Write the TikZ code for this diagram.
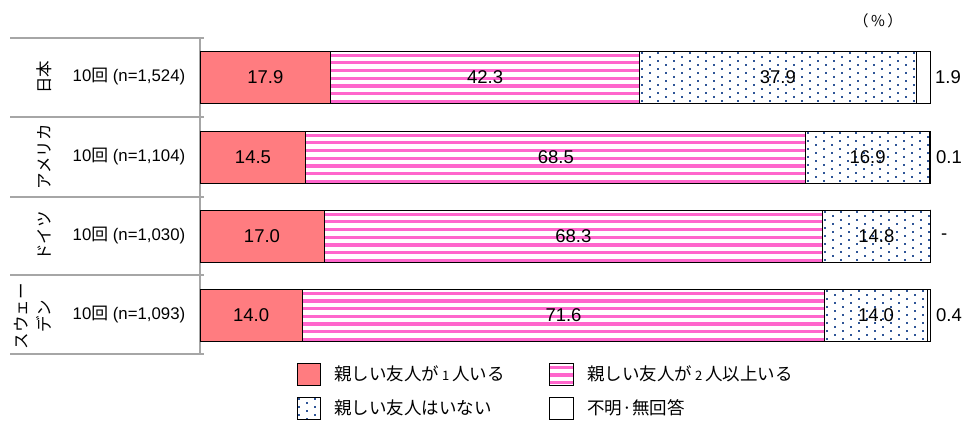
\documentclass[tikz,border=0pt]{standalone}
\usepackage{fontspec}
\setmainfont{Liberation Sans}
\newfontfamily\cjk{Noto Sans CJK JP}
\definecolor{redfill}{HTML}{FF7C80}
\definecolor{pinkline}{HTML}{FF66CC}
\definecolor{dotblue}{HTML}{2F5597}
\definecolor{gridgray}{HTML}{A6A6A6}
\tikzset{
  barline/.style={draw=black,line width=0.9pt},
  gridline/.style={draw=gridgray,line width=1.2pt},
  valtxt/.style={inner sep=0pt,font=\fontsize{18.5}{20}\selectfont},
  sidetxt/.style={inner sep=0pt,anchor=west,font=\fontsize{18.5}{20}\selectfont},
  ntxt/.style={inner sep=0pt,font=\fontsize{16.8}{18}\selectfont},
  ctry/.style={inner sep=0pt,rotate=90,align=center,font=\cjk\fontsize{16.5}{23}\selectfont},
  legtxt/.style={inner sep=0pt,anchor=west,font=\cjk\fontsize{17.5}{19}\selectfont},
}
\newcommand\mystripes[4]{%
  \fill[white] (#1,#2) rectangle (#3,#4);
  \begin{scope}
    \clip (#1,#2) rectangle (#3,#4);
    \foreach \k in {0,...,7} {\fill[pinkline] (#1,{#2+2.6+7.7*\k}) rectangle (#3,{#2+5.8+7.7*\k});}
  \end{scope}
  \draw[barline] (#1,#2) rectangle (#3,#4);
}
\newcommand\mydots[4]{%
  \fill[white] (#1,#2) rectangle (#3,#4);
  \begin{scope}
    \clip (#1,#2) rectangle (#3,#4);
    \pgfmathtruncatemacro\ncols{(#3-#1)/16+1}
    \foreach \j in {0,...,13} {
      \foreach \i in {0,...,\ncols} {
        \fill[dotblue] ({#1+1+16*\i+8*mod(\j,2)},{#2+1+4*\j}) rectangle ++(2,2);
      }
    }
  \end{scope}
  \draw[barline] (#1,#2) rectangle (#3,#4);
}
% y0, end red, end stripes, end dots
\newcommand\mybarrow[4]{%
  \fill[redfill] (200,#1) rectangle (#2,{#1+52});
  \draw[barline] (200,#1) rectangle (#2,{#1+52});
  \mystripes{#2}{#1}{#3}{#1+52}
  \mydots{#3}{#1}{#4}{#1+52}
  \fill[white] (#4,#1) rectangle (930,{#1+52});
  \draw[barline] (#4,#1) rectangle (930,{#1+52});
}
\begin{document}
\begin{tikzpicture}[x=1pt,y=-1pt]
\useasboundingbox[fill=white] (0,0) rectangle (964,422);
% grid
\draw[gridline] (10,38) -- (204,38);
\draw[gridline] (10,117) -- (204,117);
\draw[gridline] (10,197) -- (204,197);
\draw[gridline] (10,275) -- (204,275);
\draw[gridline] (10,354) -- (204,354);
\draw[gridline] (200,38) -- (200,354);
% bars
\mybarrow{51}{330.7}{639.5}{916.1}
\mybarrow{131}{305.9}{805.9}{929.3}
\mybarrow{210}{324.1}{822.7}{930}
\mybarrow{289}{302.2}{824.9}{927.1}
% unit
\node[inner sep=0pt,font=\cjk\fontsize{15}{16}\selectfont] (unit) at (878,21) {（\,\%\,）};
% country labels
\node[ctry] (c1) at (44,77.5) {日本};
\node[ctry] (c2) at (44,157) {アメリカ};
\node[ctry] (c3) at (44,236) {ドイツ};
\node[ctry] (c4) at (33,316) {スウェー\\デン};
% n labels
\node[ntxt] (n1) at (129,77) {10{\cjk 回} (n=1,524)};
\node[ntxt] (n2) at (129,157) {10{\cjk 回} (n=1,104)};
\node[ntxt] (n3) at (129,236) {10{\cjk 回} (n=1,030)};
\node[ntxt] (n4) at (129,315) {10{\cjk 回} (n=1,093)};
% values
\node[valtxt] (j1) at (265.3,77) {17.9};
\node[valtxt] (j2) at (485.1,77) {42.3};
\node[valtxt] (j3) at (777.8,77) {37.9};
\node[sidetxt] (j4) at (935,77) {1.9};
\node[valtxt] (a1) at (253,157) {14.5};
\node[valtxt] (a2) at (555.9,157) {68.5};
\node[valtxt] (a3) at (867.6,157) {16.9};
\node[sidetxt] (a4) at (936,157) {0.1};
\node[valtxt] (g1) at (262,236.5) {17.0};
\node[valtxt] (g2) at (573.4,236.5) {68.3};
\node[valtxt] (g3) at (876.4,236.5) {14.8};
\node[sidetxt] (g4) at (941,236.5) {-};
\node[valtxt] (s1) at (251.1,315.5) {14.0};
\node[valtxt] (s2) at (563.5,315.5) {71.6};
\node[valtxt] (s3) at (876,315.5) {14.0};
\node[sidetxt] (s4) at (936,315.5) {0.4};
% legend
\fill[redfill] (297,363) rectangle (320,385);
\draw[barline] (297,363) rectangle (320,385);
\mystripes{549}{363}{573}{385}
\mydots{297}{397}{320}{419}
\fill[white] (549,397) rectangle (573,419);
\draw[barline] (549,397) rectangle (573,419);
\node[legtxt] (l1) at (334,374) {親しい友人が\,{\fontsize{13}{15}\selectfont 1}\,人いる};
\node[legtxt] (l2) at (587,374) {親しい友人が\,{\fontsize{13}{15}\selectfont 2}\,人以上いる};
\node[legtxt] (l3) at (334,408) {親しい友人はいない};
\node[legtxt] (l4) at (587,408) {不明·無回答};
\end{tikzpicture}
\end{document}
